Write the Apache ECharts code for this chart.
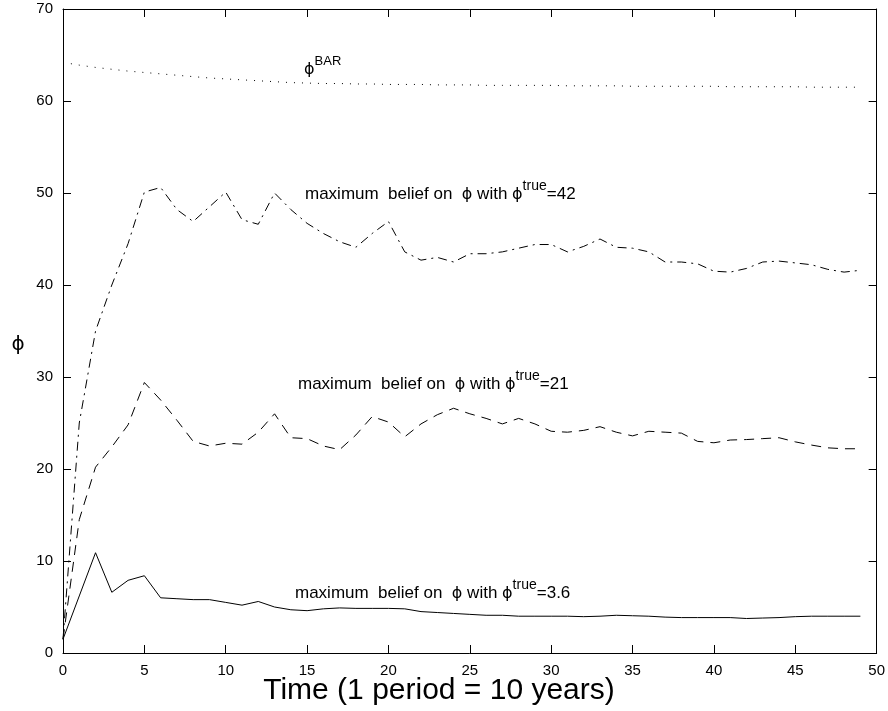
<!doctype html>
<html lang="en">
<head>
    <meta charset="UTF-8">
    <title>maximum belief on phi</title>
    <style>
        html, body { margin: 0; padding: 0; background: #fff; }
        #main { width: 888px; height: 711px; }
    </style>
</head>
<body>
<div id="main"></div>
<script type="text/javascript" src="https://cdn.jsdelivr.net/npm/echarts@6/dist/echarts.min.js"></script>
<script type="text/javascript">
    // time periods (1 period = 10 years)
    const periods = [0, 1, 2, 3, 4, 5, 6, 7, 8, 9, 10, 11, 12, 13, 14, 15, 16, 17, 18, 19,
        20, 21, 22, 23, 24, 25, 26, 27, 28, 29, 30, 31, 32, 33, 34, 35, 36, 37, 38, 39,
        40, 41, 42, 43, 44, 45, 46, 47, 48, 49];
    // phi BAR (dotted)
    const phiBar = [64.2, 63.9, 63.65, 63.45, 63.25, 63.1, 62.95, 62.8, 62.65, 62.5,
        62.4, 62.3, 62.2, 62.1, 62.0, 61.95, 61.9, 61.9, 61.85, 61.85,
        61.8, 61.8, 61.8, 61.75, 61.75, 61.75, 61.7, 61.7, 61.7, 61.7,
        61.7, 61.65, 61.65, 61.65, 61.65, 61.6, 61.6, 61.6, 61.6, 61.6,
        61.6, 61.55, 61.55, 61.55, 61.55, 61.55, 61.5, 61.5, 61.5, 61.5];
    // max belief, phi true = 42 (dash-dot)
    const belief42 = [1.5, 25, 35, 40, 44.5, 50.1, 50.6, 48.2, 46.9, 48.5,
        50.1, 47.1, 46.6, 50.0, 48.2, 46.7, 45.6, 44.7, 44.1, 45.6,
        46.9, 43.6, 42.7, 43.0, 42.5, 43.4, 43.4, 43.6, 44.0, 44.4,
        44.4, 43.6, 44.2, 45.0, 44.1, 44.0, 43.6, 42.5, 42.5, 42.3,
        41.5, 41.4, 41.8, 42.5, 42.6, 42.4, 42.2, 41.7, 41.4, 41.6];
    // max belief, phi true = 21 (dashed)
    const belief21 = [1.5, 14.5, 20.2, 22.4, 24.8, 29.4, 27.5, 25.3, 23.0, 22.5,
        22.8, 22.7, 24.0, 26.0, 23.4, 23.3, 22.5, 22.1, 23.7, 25.7,
        25.1, 23.5, 24.9, 25.9, 26.6, 26.0, 25.5, 24.9, 25.5, 24.9,
        24.1, 24.0, 24.2, 24.6, 24.0, 23.6, 24.1, 24.0, 23.9, 23.0,
        22.85, 23.15, 23.2, 23.3, 23.4, 22.95, 22.6, 22.3, 22.2, 22.2];
    // max belief, phi true = 3.6 (solid)
    const belief36 = [1.5, 6.2, 10.9, 6.6, 7.9, 8.4, 6.0, 5.9, 5.8, 5.8,
        5.5, 5.2, 5.6, 5.0, 4.7, 4.6, 4.8, 4.9, 4.85, 4.85,
        4.85, 4.8, 4.5, 4.4, 4.3, 4.2, 4.1, 4.1, 4.0, 4.0,
        4.0, 4.0, 3.95, 4.0, 4.1, 4.05, 4.0, 3.9, 3.85, 3.85,
        3.85, 3.85, 3.75, 3.8, 3.85, 3.95, 4.0, 4.0, 4.0, 4.0];

    const FONT = '"Liberation Sans", Arial, Helvetica, sans-serif';
    const PHI_FONT = '"DejaVu Sans", "Liberation Sans", sans-serif';

    function pairs(ys) {
        return periods.map(function (t, i) { return [t, ys[i]]; });
    }

    let myChart = echarts.init(document.getElementById('main'), null, {renderer: 'canvas'});

    let axisBase = {
        type: 'value',
        axisLine: {show: true, onZero: false, lineStyle: {color: '#000', width: 1}},
        axisTick: {show: true, inside: true, length: 8, lineStyle: {color: '#000'}},
        splitLine: {show: false}
    };

    function lineSeries(name, ys, dash) {
        return {
            name: name,
            type: 'line',
            data: pairs(ys),
            showSymbol: false,
            symbol: 'none',
            animation: false,
            lineStyle: {color: '#000', width: 1, type: dash},
            emphasis: {disabled: true}
        };
    }

    // rich text pieces: normal text, phi, superscript
    let richBase = {
        a: {fontSize: 17, fontFamily: FONT, fill: '#000', verticalAlign: 'bottom'},
        p: {fontSize: 16, fontFamily: PHI_FONT, fill: '#000', verticalAlign: 'bottom'},
        s: {fontSize: 14, fontFamily: FONT, fill: '#000', verticalAlign: 'bottom', padding: [0, 0, 10, 0]}
    };

    function label(x, y, value) {
        return {
            type: 'text',
            x: x,
            y: y,
            style: {
                text: '{a|maximum  belief on  }{p|ϕ}{a| with }{p|ϕ}{s|true}{a|=' + value + '}',
                rich: richBase
            }
        };
    }

    let option = {
        backgroundColor: '#fff',
        animation: false,
        grid: {left: 63, right: 11, top: 9, bottom: 58, containLabel: false},
        xAxis: [
            Object.assign({}, axisBase, {
                min: 0, max: 50, interval: 5, position: 'bottom',
                axisLabel: {color: '#000', fontSize: 15, fontFamily: FONT, margin: 10}
            }),
            Object.assign({}, axisBase, {
                min: 0, max: 50, interval: 5, position: 'top',
                axisLabel: {show: false}
            })
        ],
        yAxis: [
            Object.assign({}, axisBase, {
                min: 0, max: 70, interval: 10, position: 'left',
                axisLabel: {color: '#000', fontSize: 15, fontFamily: FONT, margin: 10}
            }),
            Object.assign({}, axisBase, {
                min: 0, max: 70, interval: 10, position: 'right',
                axisLabel: {show: false}
            })
        ],
        series: [
            lineSeries('phiBar', phiBar, [1, 7]),
            lineSeries('phi42', belief42, [9, 5, 2, 5]),
            lineSeries('phi21', belief21, [10, 7]),
            lineSeries('phi36', belief36, 'solid')
        ],
        graphic: [
            {
                type: 'text',
                x: 304,
                y: 55,
                style: {
                    text: '{p|ϕ}{s|BAR}',
                    rich: {
                        p: {fontSize: 16, fontFamily: PHI_FONT, fill: '#000', verticalAlign: 'bottom'},
                        s: {fontSize: 13, fontFamily: FONT, fill: '#000', verticalAlign: 'bottom', padding: [0, 0, 10, 0]}
                    }
                }
            },
            label(305, 179, '42'),
            label(298, 369, '21'),
            label(295, 578, '3.6'),
            {
                // y axis title
                type: 'text',
                x: 18,
                y: 345,
                style: {text: 'ϕ', fontSize: 20, fontFamily: PHI_FONT, fill: '#000', align: 'center', verticalAlign: 'middle'}
            },
            {
                // x axis title
                type: 'text',
                x: 439,
                y: 691,
                style: {text: 'Time (1 period = 10 years)', fontSize: 30, fontFamily: FONT, fill: '#000', align: 'center', verticalAlign: 'middle'}
            }
        ]
    };
    myChart.setOption(option, true);
</script>
</body>
</html>
